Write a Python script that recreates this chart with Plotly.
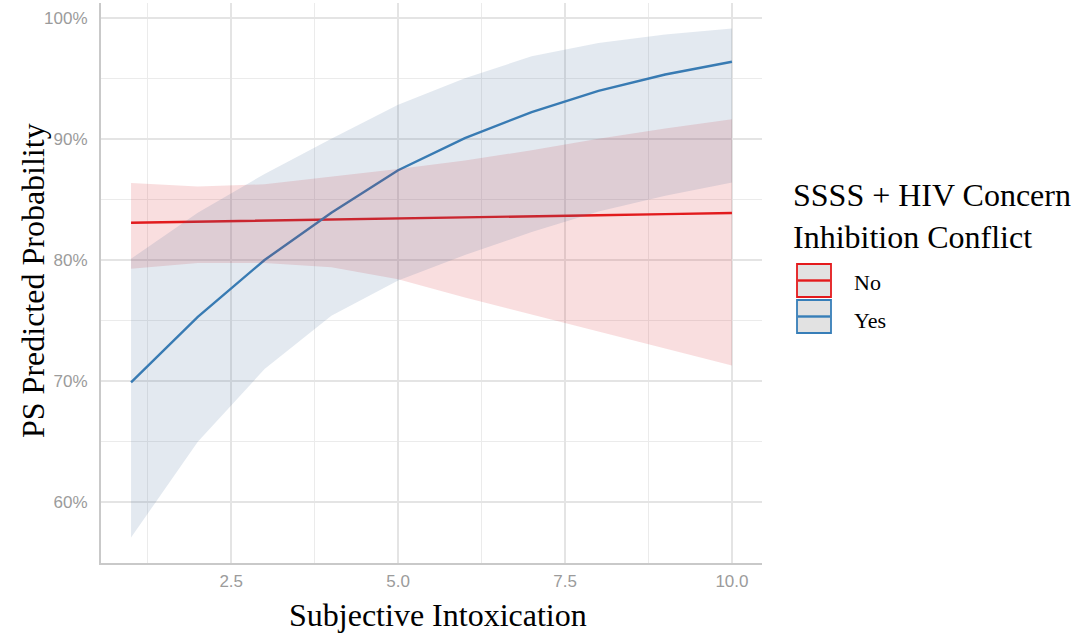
import plotly.graph_objects as go

# ---------------- data ----------------
intox = [1, 2, 3, 4, 5, 6, 7, 8, 9, 10]

no_pred = [83.07, 83.15, 83.24, 83.33, 83.42, 83.51, 83.60, 83.69, 83.78, 83.87]
no_low = [79.27, 79.75, 79.75, 79.40, 78.40, 76.90, 75.50, 74.10, 72.70, 71.30]
no_high = [86.35, 86.07, 86.24, 86.85, 87.50, 88.20, 89.05, 90.00, 90.85, 91.60]

yes_pred = [69.90, 75.30, 80.00, 83.90, 87.40, 90.05, 92.20, 93.95, 95.30, 96.35]
yes_low = [57.10, 65.00, 71.00, 75.40, 78.30, 80.40, 82.30, 84.00, 85.30, 86.40]
yes_high = [80.10, 83.90, 87.10, 90.00, 92.80, 95.00, 96.80, 97.90, 98.60, 99.10]

x_ticks = [2.5, 5.0, 7.5, 10.0]
x_tick_labels = ["2.5", "5.0", "7.5", "10.0"]
y_ticks = [60, 70, 80, 90, 100]
y_tick_labels = ["60%", "70%", "80%", "90%", "100%"]

x_title = "Subjective Intoxication"
y_title = "PS Predicted Probability"
legend_title = "SSSS + HIV Concern<br>Inhibition Conflict"
groups = ["No", "Yes"]
colors = ["#E41A1C", "#377EB8"]
fills = ["rgba(215,35,42,0.15)", "rgba(68,108,155,0.15)"]

# ---------------- figure ----------------
W, H = 1079, 639
L, R, T, B = 101, 317, 3, 76
pw, ph = W - L - R, H - T - B


def px(xp):
    return (xp - L) / pw


def py(yp):
    return (H - B - yp) / ph


fig = go.Figure()

# lines first (drawn under ribbons)
for pred, col, name in [(no_pred, colors[0], groups[0]), (yes_pred, colors[1], groups[1])]:
    fig.add_trace(go.Scatter(x=intox, y=pred, mode="lines", name=name,
                             line=dict(color=col, width=2.4), showlegend=False,
                             hoverinfo="skip"))

# ribbons
for lo, hi, fc in [(no_low, no_high, fills[0]), (yes_low, yes_high, fills[1])]:
    fig.add_trace(go.Scatter(x=intox + intox[::-1], y=hi + lo[::-1], mode="lines",
                             fill="toself", fillcolor=fc, line=dict(width=0),
                             showlegend=False, hoverinfo="skip"))

serif = "Liberation Serif, Times New Roman, serif"
sans = "Liberation Sans, Arial, sans-serif"

fig.update_layout(
    width=W, height=H,
    margin=dict(l=L, r=R, t=T, b=B, pad=0),
    paper_bgcolor="white", plot_bgcolor="white",
    showlegend=False,
    xaxis=dict(
        range=[0.55, 10.45], tickvals=x_ticks, ticktext=x_tick_labels,
        showgrid=True, gridcolor="#E4E4E4", gridwidth=1.6,
        minor=dict(tickvals=[1.25, 3.75, 6.25, 8.75], showgrid=True,
                   gridcolor="#EBEBEB", gridwidth=1.4, ticks=""),
        zeroline=False, showline=True, linecolor="#C9C9C9", linewidth=2,
        ticks="", ticklen=0, ticklabelstandoff=2,
        tickfont=dict(family=sans, size=17, color="#9B9B9B"),
    ),
    yaxis=dict(
        range=[55.0, 101.2], tickvals=y_ticks, ticktext=y_tick_labels,
        showgrid=True, gridcolor="#E4E4E4", gridwidth=1.6,
        minor=dict(tickvals=[65, 75, 85, 95], showgrid=True,
                   gridcolor="#EBEBEB", gridwidth=1.4, ticks=""),
        zeroline=False, showline=True, linecolor="#C9C9C9", linewidth=2,
        ticks="", ticklen=0, ticklabelstandoff=8,
        tickfont=dict(family=sans, size=17, color="#9B9B9B"),
    ),
)

# axis titles
fig.add_annotation(x=px(438), y=py(615), xref="paper", yref="paper",
                   text=x_title, showarrow=False, xanchor="center", yanchor="middle",
                   font=dict(family=serif, size=32, color="black"))
fig.add_annotation(x=px(33), y=py(281), xref="paper", yref="paper",
                   text=y_title, showarrow=False, xanchor="center", yanchor="middle",
                   textangle=-90,
                   font=dict(family=serif, size=32, color="black"))

# custom legend
fig.add_annotation(x=px(791), y=py(216), xref="paper", yref="paper",
                   text=legend_title, showarrow=False, xanchor="left", yanchor="middle",
                   align="left",
                   font=dict(family=serif, size=32, color="black"))

key_tops = [264, 300]
text_y = [282, 320]
for i, (g, col) in enumerate(zip(groups, colors)):
    t = key_tops[i]
    b = t + 33
    fig.add_shape(type="rect", xref="paper", yref="paper",
                  x0=px(797), x1=px(831), y0=py(b), y1=py(t),
                  fillcolor="#E2E2E2", line=dict(color=col, width=1.8))
    fig.add_shape(type="line", xref="paper", yref="paper",
                  x0=px(798), x1=px(830), y0=py((t + b) / 2), y1=py((t + b) / 2),
                  line=dict(color=col, width=2.4))
    fig.add_annotation(x=px(852), y=py(text_y[i]), xref="paper", yref="paper",
                       text=g, showarrow=False, xanchor="left", yanchor="middle",
                       font=dict(family=serif, size=22, color="black"))

fig.write_html("out.html")
